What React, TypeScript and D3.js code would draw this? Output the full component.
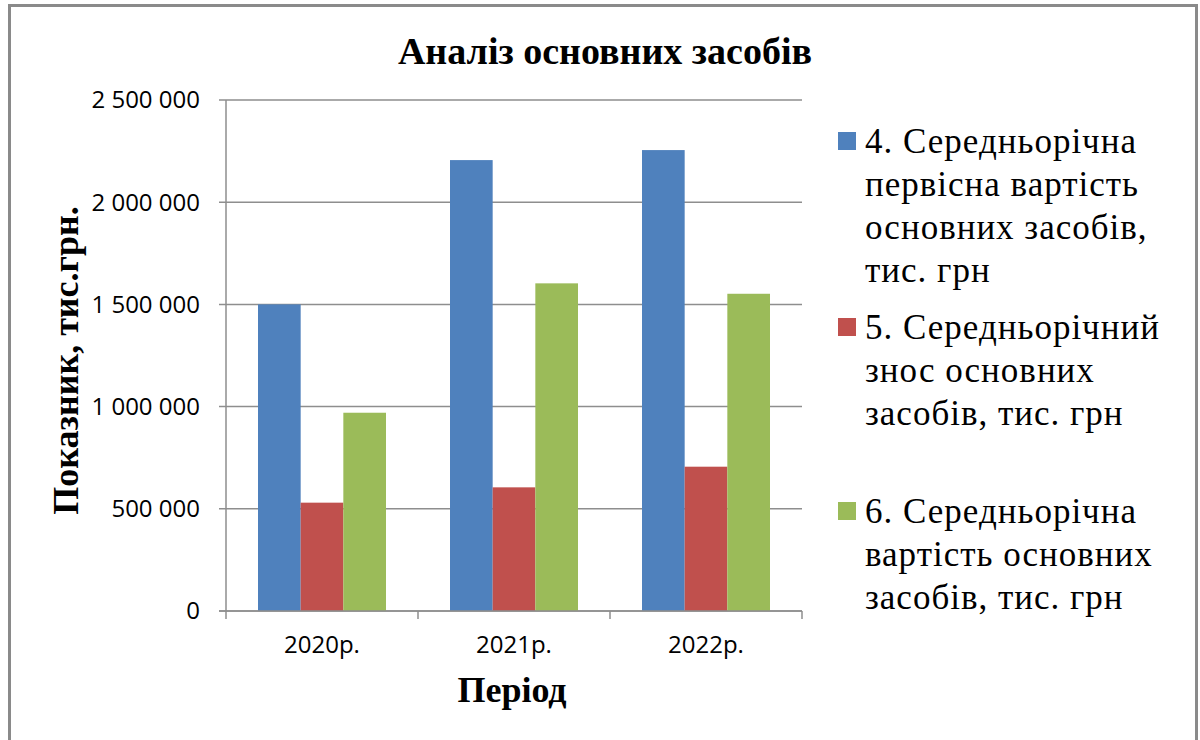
import React from 'react';
import * as d3 from 'd3';

const categories: string[] = ['2020р.', '2021р.', '2022р.'];
const seriesNames: string[] = [
  '4. Середньорічна первісна вартість основних засобів, тис. грн',
  '5. Середньорічний знос основних засобів, тис. грн',
  '6. Середньорічна вартість основних засобів, тис. грн',
];
const legendLines: string[][] = [
  ['4. Середньорічна', 'первісна вартість', 'основних засобів,', 'тис. грн'],
  ['5. Середньорічний', 'знос основних', 'засобів, тис. грн'],
  ['6. Середньорічна', 'вартість основних', 'засобів, тис. грн'],
];
const series4: number[] = [1500000, 2206000, 2255000];
const series5: number[] = [530000, 605000, 706000];
const series6: number[] = [970000, 1603000, 1552000];
const yTicks: number[] = [0, 500000, 1000000, 1500000, 2000000, 2500000];
const colors: string[] = ['#4F81BD', '#C0504D', '#9BBB59'];

const W = 1200;
const H = 740;

export default function App() {
  const seriesData = [series4, series5, series6];
  const left = 226;
  const right = 802;
  const top = 100;
  const bottom = 611;

  const x0 = d3.scaleBand<string>().domain(categories).range([left, right]).padding(0);
  const x1 = d3
    .scaleBand<number>()
    .domain([0, 1, 2])
    .range([0, x0.bandwidth()])
    .paddingInner(0)
    .paddingOuter(0.75);
  const y = d3.scaleLinear().domain([0, 2500000]).range([bottom, top]);

  const loc = d3.formatLocale({ decimal: ',', thousands: '\u00a0', grouping: [3], currency: ['', ''] });
  const fmt = loc.format(',d');

  const serif = '"Liberation Serif", "Times New Roman", serif';
  const sans = '"Open Sans", "Noto Sans", sans-serif';
  const gridColor = '#8e8e8e';

  const legendBaselines = [
    [153, 196, 239, 282],
    [339, 382, 425],
    [523, 566, 609],
  ];

  const boundaries = [...categories.map((c) => x0(c) as number), right];

  return (
    <svg
      width={W}
      height={H}
      style={{ position: 'absolute', left: 0, top: 0, background: '#fff' }}
    >
      <rect x={0} y={0} width={W} height={H} fill="#fff" />
      <rect x={9.5} y={5.5} width={1187} height={760} fill="#fff" stroke="#8a8a8a" strokeWidth={3} />

      {/* title */}
      <text x={605} y={64} textAnchor="middle" fontFamily={serif} fontWeight="bold" fontSize={38} fill="#000">
        Аналіз основних засобів
      </text>

      {/* gridlines */}
      {yTicks.map((t) => (
        <line key={'g' + t} x1={left - 7} x2={right} y1={y(t)} y2={y(t)} stroke={gridColor} strokeWidth={1.5} />
      ))}

      {/* bars */}
      {categories.map((c, ci) => (
        <g key={c} transform={`translate(${x0(c)},0)`}>
          {seriesData.map((s, si) => (
            <rect
              key={si}
              x={x1(si)}
              y={y(s[ci])}
              width={x1.bandwidth()}
              height={y(0) - y(s[ci])}
              fill={colors[si]}
            />
          ))}
        </g>
      ))}

      {/* axes */}
      <line x1={left} x2={left} y1={top} y2={bottom} stroke={gridColor} strokeWidth={1.5} />
      <line x1={left - 7} x2={right} y1={bottom} y2={bottom} stroke={gridColor} strokeWidth={1.5} />
      {boundaries.map((b, i) => (
        <line key={'xt' + i} x1={b} x2={b} y1={bottom} y2={bottom + 8} stroke={gridColor} strokeWidth={1.5} />
      ))}

      {/* y tick labels */}
      {yTicks.map((t) => (
        <text
          key={'yl' + t}
          x={200}
          y={y(t)}
          dy="0.35em"
          textAnchor="end"
          fontFamily={sans}
          fontSize={24}
          fill="#000"
        >
          {fmt(t)}
        </text>
      ))}

      {/* x tick labels */}
      {categories.map((c) => (
        <text
          key={'xl' + c}
          x={(x0(c) as number) + x0.bandwidth() / 2}
          y={653}
          textAnchor="middle"
          fontFamily={sans}
          fontSize={24}
          fill="#000"
        >
          {c}
        </text>
      ))}

      {/* axis titles */}
      <text x={512} y={702} textAnchor="middle" fontFamily={serif} fontWeight="bold" fontSize={36} fill="#000">
        Період
      </text>
      <text
        transform={`translate(78, ${(208 + 513) / 2}) rotate(-90)`}
        textAnchor="middle"
        fontFamily={serif}
        fontWeight="bold"
        fontSize={36}
        fill="#000"
      >
        Показник, тис.грн.
      </text>

      {/* legend */}
      {legendLines.map((lines, si) => (
        <g key={'lg' + si}>
          <title>{seriesNames[si]}</title>
          <rect x={838} y={legendBaselines[si][0] - 21} width={18} height={18} fill={colors[si]} />
          {lines.map((ln, li) => (
            <text
              key={li}
              x={865}
              y={legendBaselines[si][li]}
              fontFamily={serif}
              fontSize={35}
              letterSpacing={1}
              fill="#000"
            >
              {ln}
            </text>
          ))}
        </g>
      ))}
    </svg>
  );
}
